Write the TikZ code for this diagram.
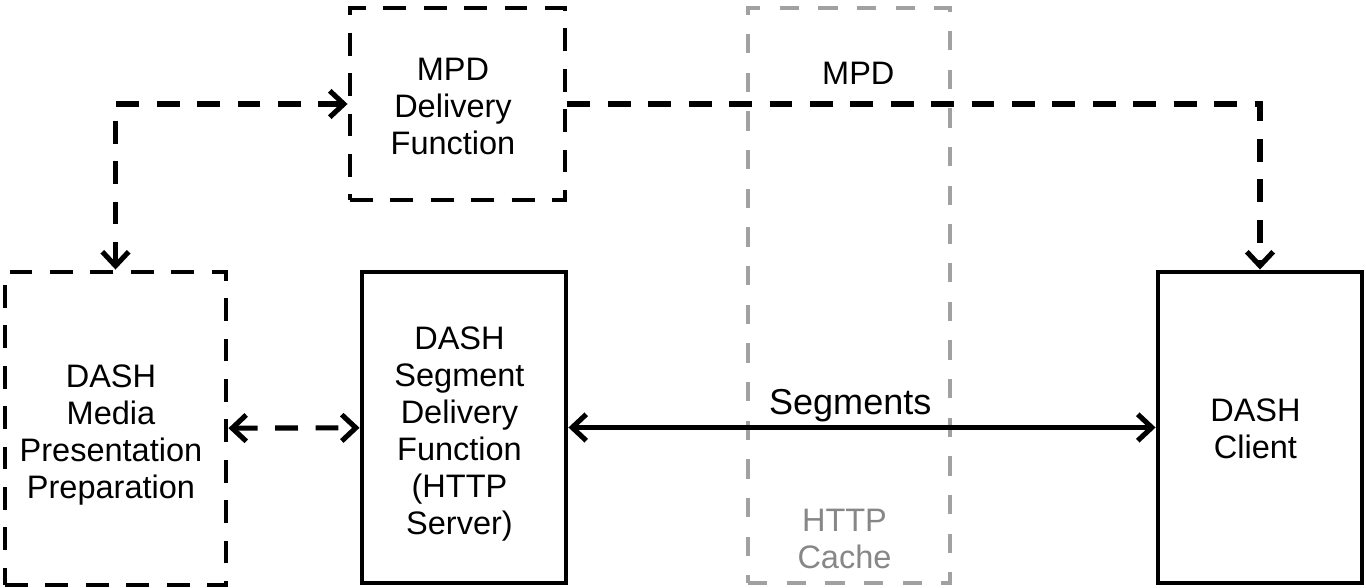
\documentclass[tikz,border=0pt]{standalone}
\usepackage{fontspec}
\setmainfont{Liberation Sans}
\usepackage{tikz}
\usetikzlibrary{arrows.meta}
\usetikzlibrary{positioning}

\tikzset{
  box/.style={draw, line width=2.8pt, minimum width=4.08cm, minimum height=6.22cm,
    inner sep=0pt, align=center},
  dashbox/.style={box, dash pattern=on 13pt off 10pt},
  cachebox/.style={draw=black!37, line width=2.6pt, dash pattern=on 11pt off 11pt,
    minimum width=4.04cm, minimum height=11.5cm, inner sep=0pt},
  connector/.style={draw, line width=2.9pt, >={Straight Barb[length=8pt,width=15pt]}},
  dashconnector/.style={connector, dash pattern=on 13pt off 10pt}
}

\begin{document}
\begin{tikzpicture}[font=\fontsize{18.5}{21}\selectfont]
    \useasboundingbox (0,0) rectangle (27.32,-11.76);

    % CACHE (BACKGROUND)
    \node[cachebox] (HTTP_CACHE) at (16.98,-5.91) {};
    \node[text=black!47, anchor=south, align=center] (HTTP_CACHE_TEXT)
      at (HTTP_CACHE.south)
    {
      \begin{tabular}{c}
        HTTP \\ Cache
      \end{tabular}
    };

    % FIRST LAYER
    \node[dashbox,
      minimum width=4.3cm,
      minimum height=3.84cm] (MPD_DELIVERY) at (9.15,-2.08)
    {
      \raisebox{-3.5pt}[\height][\depth]{\begin{tabular}{c}
        MPD \\ Delivery \\ Function
      \end{tabular}}
    };

    % SECOND LAYER
    \node[box,
      node distance=6.47cm,
      below of=MPD_DELIVERY,
      xshift=0.13cm] (SEGMENT_DELIVERY)
    {
      \raisebox{-4pt}[\height][\depth]{\begin{tabular}{c}
        DASH \\ Segment \\ Delivery \\ Function \\ (HTTP \\ Server)
      \end{tabular}}
    };

    \node[dashbox,
      minimum width=4.42cm,
      minimum height=6.26cm,
      node distance=6.97cm,
      left of=SEGMENT_DELIVERY,
      yshift=-0.02cm] (PRESENTATION_PREP)
    {
      \raisebox{-4pt}[\height][\depth]{\begin{tabular}{c}
        DASH \\ Media \\ Presentation \\ Preparation
      \end{tabular}}
    };

    \node[box,
      node distance=15.92cm,
      right of=SEGMENT_DELIVERY] (DASH_CLIENT)
    {
      \raisebox{-3pt}[\height][\depth]{\begin{tabular}{c}
        DASH \\ Client
      \end{tabular}}
    };

    % LINES
    \path[dashconnector, <->] (MPD_DELIVERY.west) -| (PRESENTATION_PREP);
    \path[dashconnector, ->] (MPD_DELIVERY.east) -|
      node[pos=0.21, above=0.22cm] {MPD} (DASH_CLIENT);
    \path[dashconnector, <->] (PRESENTATION_PREP) -- (SEGMENT_DELIVERY);
    \path[connector, <->] (SEGMENT_DELIVERY) --
      node[pos=0.48, above=-0.06cm, font=\fontsize{20.5}{24}\selectfont] {Segments} (DASH_CLIENT);
\end{tikzpicture}
\end{document}
